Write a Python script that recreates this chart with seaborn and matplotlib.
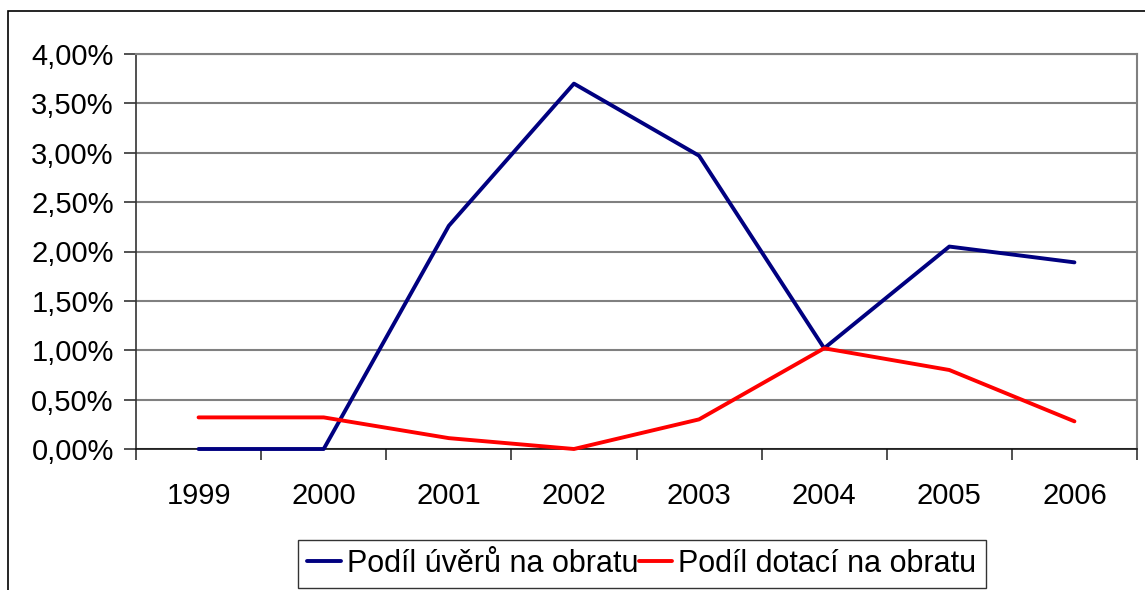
"""Podíl úvěrů a dotací na obratu, 1999-2006."""

import matplotlib.pyplot as plt
import pandas as pd
import seaborn as sns
from matplotlib.patches import Rectangle
from matplotlib.ticker import FuncFormatter

years = ["1999", "2000", "2001", "2002", "2003", "2004", "2005", "2006"]
uvery = [0.0, 0.0, 2.26, 3.70, 2.97, 1.02, 2.05, 1.89]
dotace = [0.32, 0.32, 0.11, 0.0, 0.30, 1.02, 0.80, 0.28]
series_names = ["Podíl úvěrů na obratu", "Podíl dotací na obratu"]
colors = ["#000080", "#ff0000"]
y_ticks = [0.0, 0.5, 1.0, 1.5, 2.0, 2.5, 3.0, 3.5, 4.0]

frame = pd.DataFrame({
    "year": years * 2,
    "value": uvery + dotace,
    "series": [series_names[0]] * len(years) + [series_names[1]] * len(years),
})

sns.set_style("white")
plt.rcParams["font.family"] = ["Liberation Sans", "DejaVu Sans"]
plt.rcParams["text.color"] = "black"
plt.rcParams["xtick.labelcolor"] = "black"
plt.rcParams["ytick.labelcolor"] = "black"

fig = plt.figure(figsize=(11.45, 5.9), dpi=100)
ax = fig.add_axes([136 / 1145, 1 - 449 / 590, 1001 / 1145, 395 / 590])

sns.lineplot(
    data=frame, x="year", y="value", hue="series", palette=colors,
    linewidth=2.8, ax=ax, legend=False, sort=False, zorder=3, clip_on=False,
)

ax.set_xlim(-0.5, len(years) - 0.5)
ax.set_ylim(0, 4)
ax.set_yticks(y_ticks)
ax.yaxis.set_major_formatter(FuncFormatter(lambda v, _: f"{v:.2f}%".replace(".", ",")))
ax.grid(axis="y", color="#808080", linewidth=1.5)
ax.set_axisbelow(True)
ax.set_xlabel("")
ax.set_ylabel("")

# category labels centred, tick marks between categories
ax.set_xticks(range(len(years)))
ax.set_xticklabels(years)
ax.set_xticks([i - 0.5 for i in range(len(years) + 1)], minor=True)
ax.tick_params(axis="x", which="major", bottom=True, length=0, pad=24,
               labelsize=21, labelcolor="black")
ax.tick_params(axis="x", which="minor", bottom=True, length=8, width=1.2,
               color="#333333", direction="out")
ax.tick_params(axis="y", left=True, length=9, width=1.2, color="#333333",
               direction="out", pad=7, labelsize=21, labelcolor="black")

for side in ["top", "right"]:
    ax.spines[side].set_color("#808080")
    ax.spines[side].set_linewidth(1.5)
ax.spines["left"].set_color("#333333")
ax.spines["bottom"].set_color("#111111")
for side in ["left", "bottom"]:
    ax.spines[side].set_linewidth(1.2)

# outer chart frame, cut off at right and bottom like the source
fig.patches.append(Rectangle(
    (8 / 1145, -0.1), 1.2, 1 - 11 / 590 + 0.1,
    transform=fig.transFigure, fill=False, edgecolor="black", linewidth=1.2,
))

handles = [plt.Line2D([], [], color=c, linewidth=2.8) for c in colors]
leg = fig.legend(
    handles, series_names, loc="center", bbox_to_anchor=(642 / 1145, 1 - 564 / 590),
    ncol=2, fontsize=22, frameon=True, fancybox=False, handlelength=1.1,
    handletextpad=0.2, columnspacing=0.0, borderpad=0.3, borderaxespad=0.0,
)
leg.get_frame().set_edgecolor("black")
leg.get_frame().set_linewidth(1.0)
for text in leg.get_texts():
    text.set_color("black")

fig.savefig("out.png", dpi=100)
